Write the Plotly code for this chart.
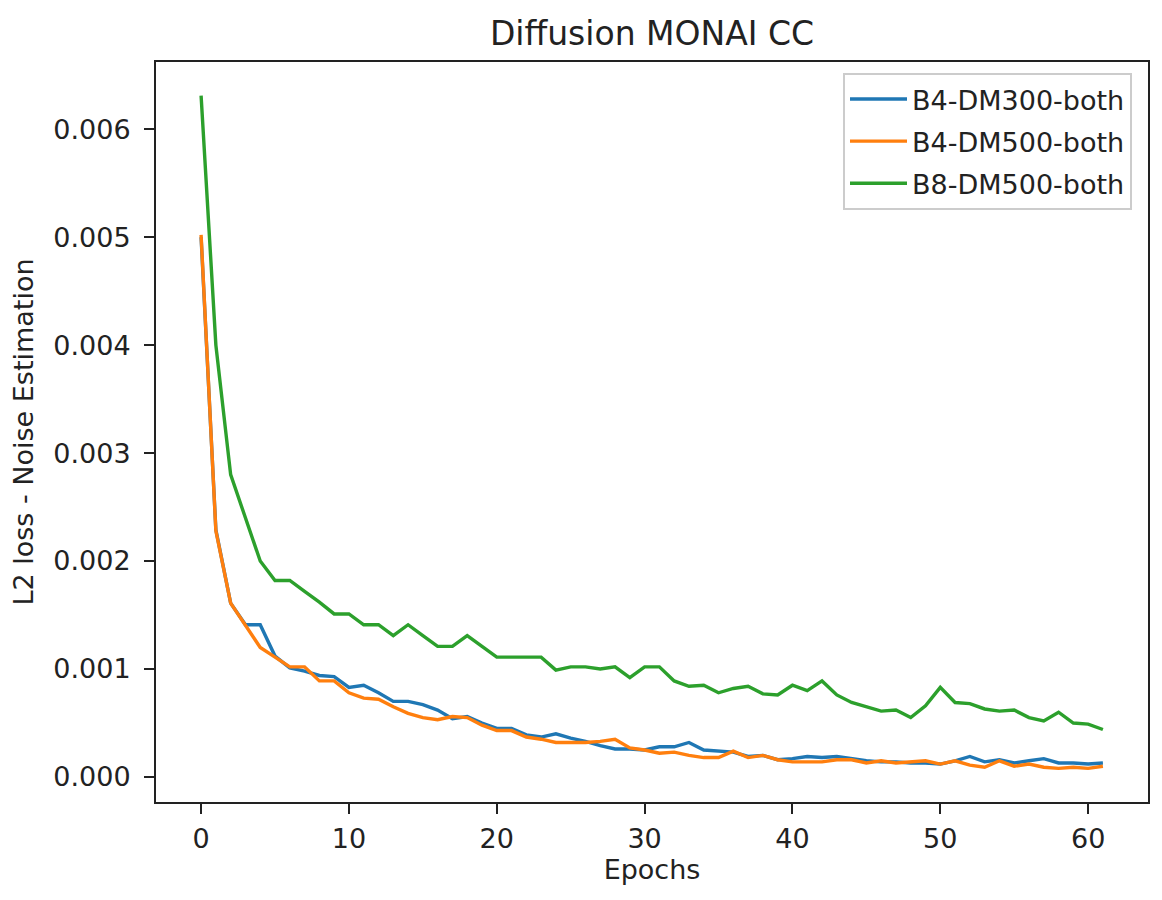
import plotly.graph_objects as go

epochs = list(range(62))

b4_dm300 = [0.00500, 0.00229, 0.00161, 0.00141, 0.00141, 0.00112, 0.00101, 0.00098, 0.00094, 0.00093,
            0.00083, 0.00085, 0.00078, 0.00070, 0.00070, 0.00067, 0.00062, 0.00054, 0.00056, 0.00050,
            0.00045, 0.00045, 0.00039, 0.00037, 0.00040, 0.00036, 0.00033, 0.00029, 0.00026, 0.00026,
            0.00025, 0.00028, 0.00028, 0.00032, 0.00025, 0.00024, 0.00023, 0.00019, 0.00020, 0.00016,
            0.00017, 0.00019, 0.00018, 0.00019, 0.00017, 0.00015, 0.00014, 0.00014, 0.00013, 0.00013,
            0.00012, 0.00015, 0.00019, 0.00014, 0.00016, 0.00013, 0.00015, 0.00017, 0.00013, 0.00013,
            0.00012, 0.00013]

b4_dm500 = [0.00502, 0.00228, 0.00161, 0.00140, 0.00120, 0.00111, 0.00102, 0.00102, 0.00089, 0.00089,
            0.00078, 0.00073, 0.00072, 0.00065, 0.00059, 0.00055, 0.00053, 0.00056, 0.00055, 0.00048,
            0.00043, 0.00043, 0.00037, 0.00035, 0.00032, 0.00032, 0.00032, 0.00033, 0.00035, 0.00027,
            0.00025, 0.00022, 0.00023, 0.00020, 0.00018, 0.00018, 0.00024, 0.00018, 0.00020, 0.00016,
            0.00014, 0.00014, 0.00014, 0.00016, 0.00016, 0.00013, 0.00015, 0.00013, 0.00014, 0.00015,
            0.00012, 0.00015, 0.00011, 0.00009, 0.00015, 0.00010, 0.00012, 0.00009, 0.00008, 0.00009,
            0.00008, 0.00010]

b8_dm500 = [0.00631, 0.00400, 0.00280, 0.00240, 0.00200, 0.00182, 0.00182, 0.00172, 0.00162, 0.00151,
            0.00151, 0.00141, 0.00141, 0.00131, 0.00141, 0.00131, 0.00121, 0.00121, 0.00131, 0.00121,
            0.00111, 0.00111, 0.00111, 0.00111, 0.00099, 0.00102, 0.00102, 0.00100, 0.00102, 0.00092,
            0.00102, 0.00102, 0.00089, 0.00084, 0.00085, 0.00078, 0.00082, 0.00084, 0.00077, 0.00076,
            0.00085, 0.00080, 0.00089, 0.00076, 0.00069, 0.00065, 0.00061, 0.00062, 0.00055, 0.00066,
            0.00083, 0.00069, 0.00068, 0.00063, 0.00061, 0.00062, 0.00055, 0.00052, 0.00060, 0.00050,
            0.00049, 0.00044]

series_names = ["B4-DM300-both", "B4-DM500-both", "B8-DM500-both"]
series_values = [b4_dm300, b4_dm500, b8_dm500]
series_colors = ["#1f77b4", "#ff7f0e", "#2ca02c"]

x_ticks = [0, 10, 20, 30, 40, 50, 60]
y_ticks = [0.000, 0.001, 0.002, 0.003, 0.004, 0.005, 0.006]
y_tick_labels = ["0.000", "0.001", "0.002", "0.003", "0.004", "0.005", "0.006"]

fig = go.Figure()
for i, (name, vals, col) in enumerate(zip(series_names, series_values, series_colors)):
    fig.add_trace(go.Scatter(x=epochs, y=vals, mode="lines", name=name,
                             legendgroup="g%d" % i,
                             line=dict(color=col, width=3.4)))

all_vals = [v for s in series_values for v in s]
ymin, ymax = min(all_vals), max(all_vals)
ypad = 0.05 * (ymax - ymin)
xpad = 0.05 * (max(epochs) - min(epochs))

font_family = "DejaVu Sans"
txt = "#222222"

fig.update_layout(
    width=1162, height=900,
    paper_bgcolor="white", plot_bgcolor="white",
    margin=dict(l=148, r=22, t=54, b=106),
    font=dict(family=font_family, size=27, color=txt),
    title=dict(text="Diffusion MONAI CC", x=0.5, xref="paper", xanchor="center",
               y=1 - 25 / 900, yref="container", yanchor="middle",
               font=dict(size=33, color=txt, family=font_family)),
    showlegend=True,
    legend=dict(x=1 - 16 / 992, y=1 - 11 / 740, xanchor="right", yanchor="top",
                bgcolor="rgba(255,255,255,0.8)", bordercolor="#cccccc", borderwidth=2,
                font=dict(size=27, color=txt, family=font_family),
                itemwidth=57, tracegroupgap=4),
)

fig.update_xaxes(
    range=[min(epochs) - xpad, max(epochs) + xpad],
    tickmode="array", tickvals=x_ticks, ticktext=[str(t) for t in x_ticks],
    ticks="outside", ticklen=10, tickwidth=2, tickcolor="#222",
    showline=True, linecolor="#222", linewidth=2, mirror=True,
    showgrid=False, zeroline=False, ticklabelstandoff=2,
    title=dict(text="Epochs", standoff=6, font=dict(size=27, color=txt)),
    tickfont=dict(size=27, color=txt),
)
fig.update_yaxes(
    range=[ymin - ypad, ymax + ypad],
    tickmode="array", tickvals=y_ticks, ticktext=y_tick_labels,
    ticks="outside", ticklen=10, tickwidth=2, tickcolor="#222",
    showline=True, linecolor="#222", linewidth=2, mirror=True,
    showgrid=False, zeroline=False, ticklabelstandoff=8,
    title=dict(text="L2 loss - Noise Estimation", standoff=14, font=dict(size=27, color=txt)),
    tickfont=dict(size=27, color=txt),
)

fig.write_html("out.html")
